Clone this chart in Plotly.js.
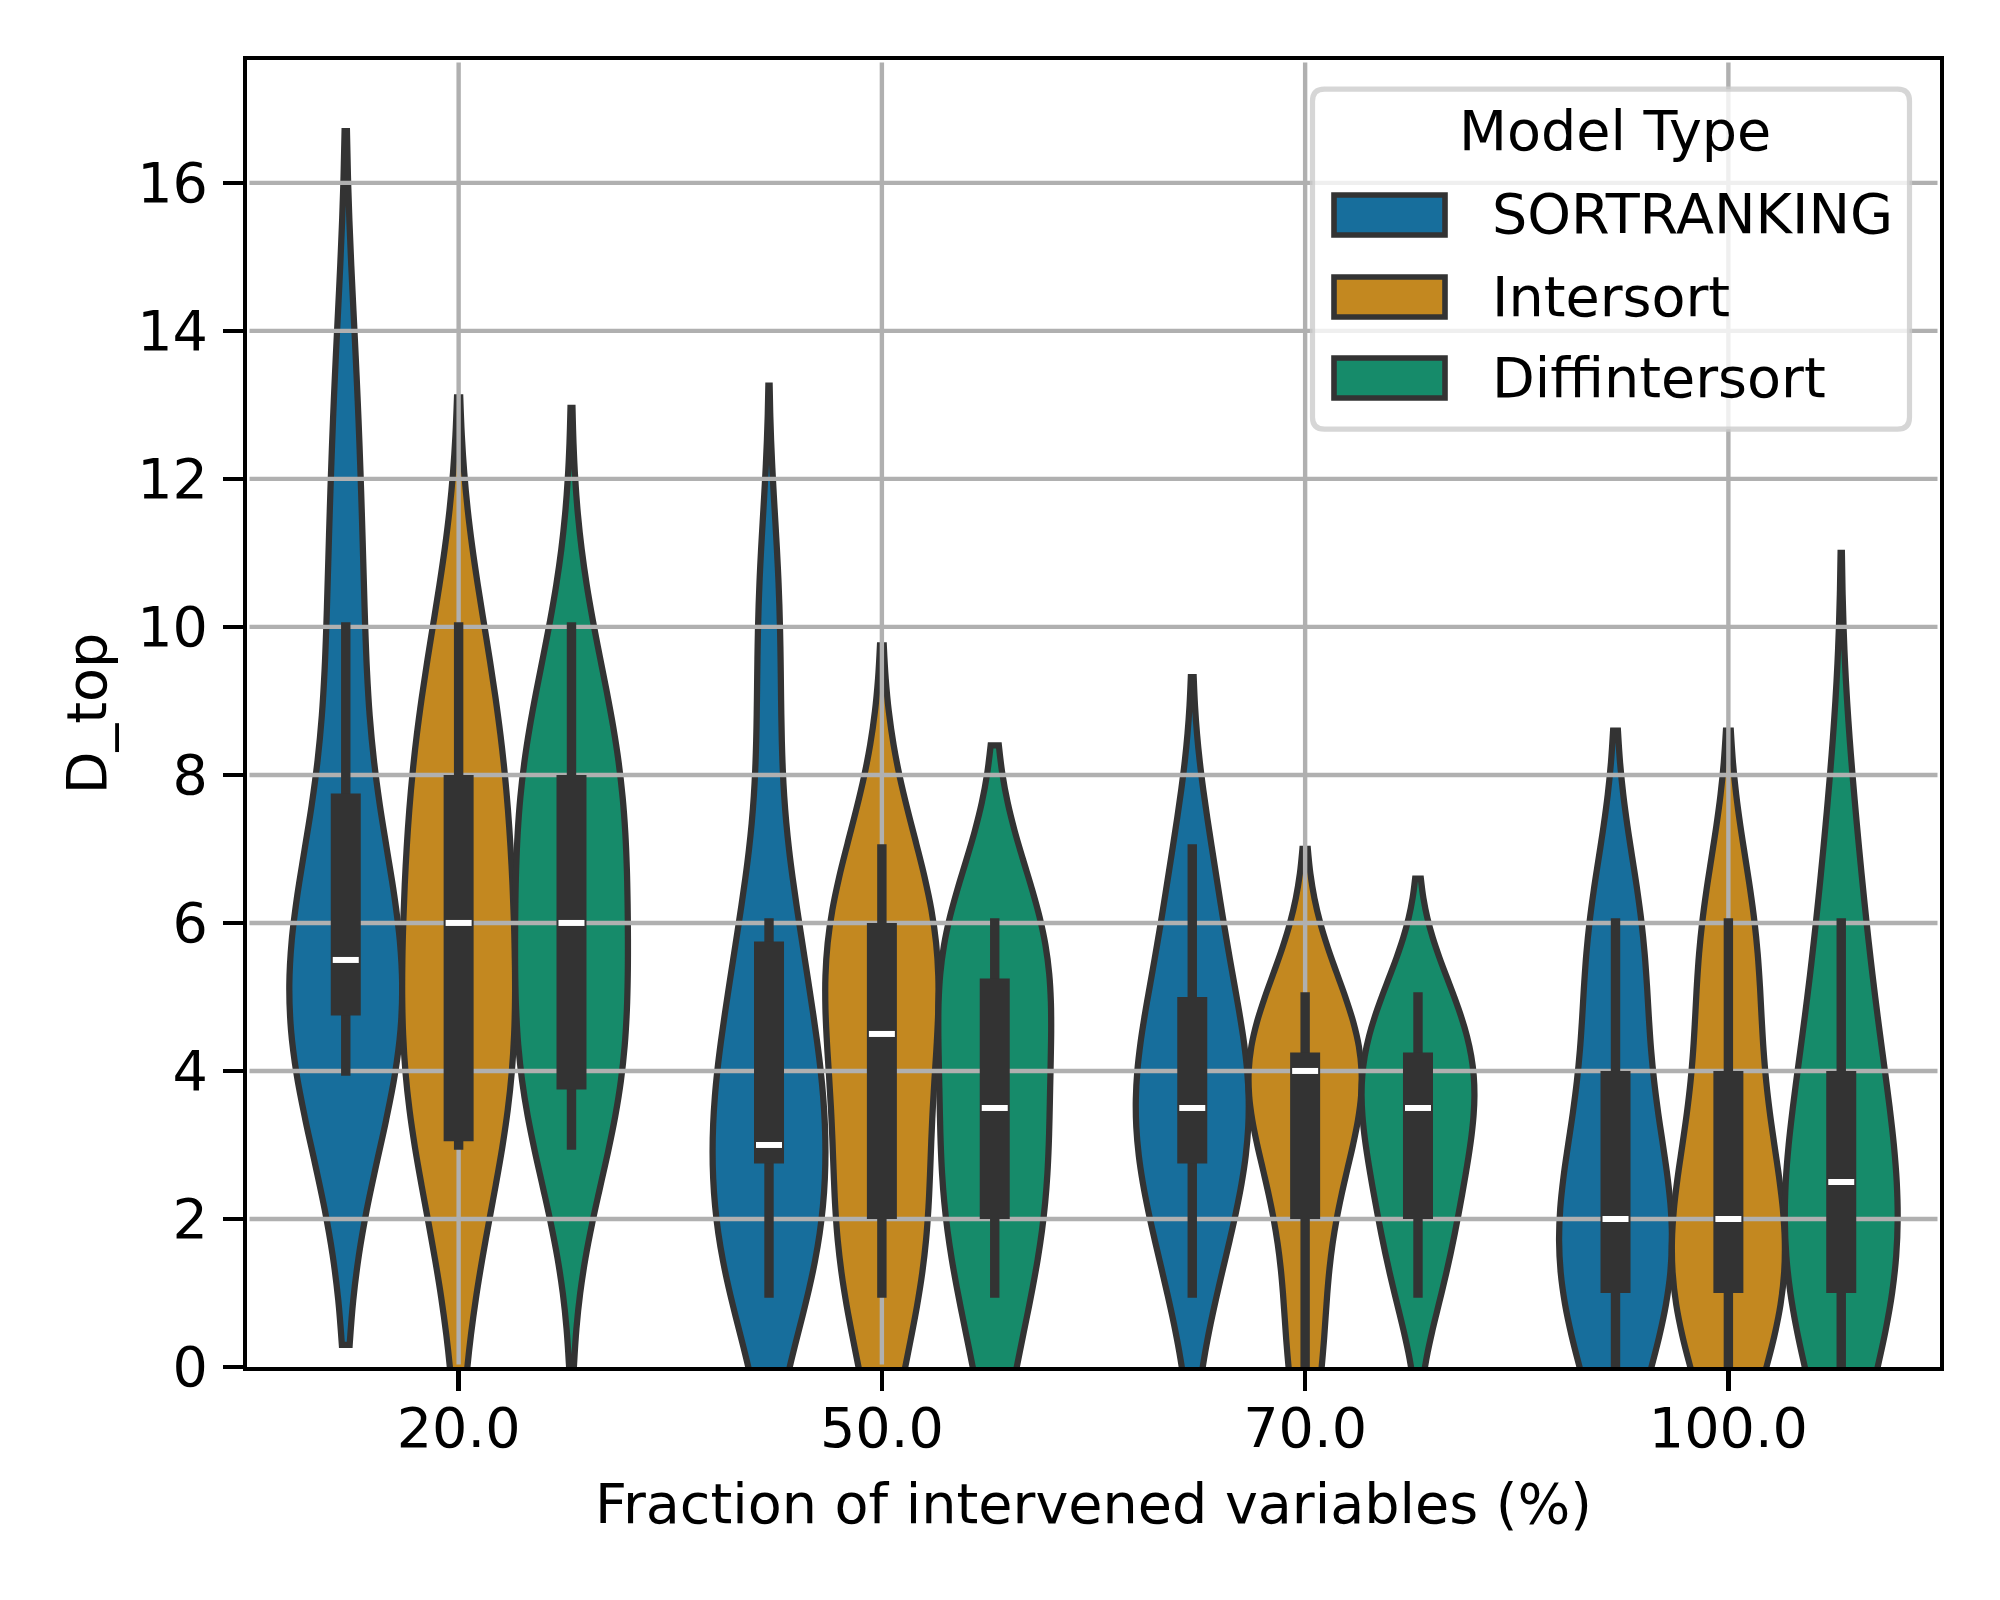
<!DOCTYPE html>
<html>
<head>
<meta charset="utf-8">
<script src="https://cdn.plot.ly/plotly-3.0.1.min.js"></script>
<style>html,body{margin:0;padding:0;background:#ffffff;}</style>
</head>
<body>
<div id="chart" style="width:2000px;height:1600px;"></div>
<script>
// ------------------------------------------------------------------
// DATA
// ------------------------------------------------------------------
const fractions = ['20.0', '50.0', '70.0', '100.0'];
const modelNames = ['SORTRANKING', 'Intersort', 'Diffintersort'];
const yTickValues = [0, 2, 4, 6, 8, 10, 12, 14, 16];

// D_top observations per fraction (input of the violin density estimate)
const sortrankingSamples = [
  [4,4,4,4,4,5,5,5,5,5,6,6,6,7,7,10,10,10,13,13],
  [0,1,1,1,1,2,2,2,2,2,3,3,3,3,3,4,4,4,4,4,5,5,5,6,6,6,7,8,9,10,11],
  [1,1,2,2,2,3,3,3,3,3,4,4,4,4,4,5,5,5,6,6,7,7],
  [0,0,0,1,1,1,1,1,2,2,2,2,2,2,3,3,3,4,4,5,5,6,6,6,6]
];
const intersortSamples = [
  [1,2,3,3,3,4,4,4,4,5,5,5,6,6,6,7,7,7,8,8,8,9,9,10,10],
  [0,1,1,1,2,2,2,2,3,3,4,4,4,5,5,5,5,6,6,6,6,6,7,7],
  [0,0,1,2,2,3,3,3,4,4,4,4,4,4,5,5,5],
  [0,0,0,1,1,1,1,1,1,2,2,2,2,2,3,3,3,4,4,5,5,6,6,6,6]
];
const diffintersortSamples = [
  [3,3,3,4,4,4,4,5,5,5,6,6,6,7,7,7,8,8,8,8,9,9,10],
  [0,0,1,1,1,2,2,2,2,2,3,3,3,3,3,4,4,4,4,5,5,5,5,5,6,6,6,6,6,6,6],
  [1,1,2,2,2,3,3,3,3,4,4,4,4,4,5,5,5],
  [0,0,0,1,1,1,1,1,2,2,2,2,2,3,3,3,3,4,4,4,5,5,6,6,7,8]
];

// inner box statistics per fraction
const sortrankingQ1 = [4.75, 2.75, 2.75, 1];
const sortrankingMedian = [5.5, 3, 3.5, 2];
const sortrankingQ3 = [7.75, 5.75, 5, 4];
const sortrankingWhiskerLow = [4, 1, 1, 0];
const sortrankingWhiskerHigh = [10, 6, 7, 6];

const intersortQ1 = [3.05, 2, 2, 1];
const intersortMedian = [6, 4.5, 4, 2];
const intersortQ3 = [8, 6, 4.25, 4];
const intersortWhiskerLow = [3, 1, 0, 0];
const intersortWhiskerHigh = [10, 7, 5, 6];

const diffintersortQ1 = [3.75, 2, 2, 1];
const diffintersortMedian = [6, 3.5, 3.5, 2.5];
const diffintersortQ3 = [8, 5.25, 4.25, 4];
const diffintersortWhiskerLow = [3, 1, 1, 0];
const diffintersortWhiskerHigh = [10, 6, 5, 6];

// ------------------------------------------------------------------
// STYLE
// ------------------------------------------------------------------
const modelColors = ['#176e9c', '#c38820', '#168b6a'];
const kdeBandwidth = [
  [1.85, 1.13, 1.16, 1.3],   // SORTRANKING
  [1.55, 1.375, 1.0, 1.3],   // Intersort
  [1.48, 1.2, 0.8, 1.5]      // Diffintersort
];
const FONT = 'DejaVu Sans, Verdana, sans-serif';
const FS = 55.6;
const DARK = '#333333';
const GRID = '#b0b0b0';
const W = 2000, H = 1600;
const M = {l: 247, r: 60, t: 60, b: 233};
const PW = W - M.l - M.r, PH = H - M.t - M.b;
const X_RANGE = [-0.5, fractions.length - 0.5];
const Y_RANGE = [0, 17.66];
const PX_PER_X = PW / (X_RANGE[1] - X_RANGE[0]);
const PX_PER_Y = PH / (Y_RANGE[1] - Y_RANGE[0]);
const VIOLIN_WIDTH = 0.8 / modelNames.length;
const BOX_HALF = 15 / PX_PER_X;
const MEDIAN_HALF = 13 / PX_PER_X;
const WHISKER_PX = 9.4;
const WHISKER_CAP = (WHISKER_PX / 2) / PX_PER_Y;

const samples = [sortrankingSamples, intersortSamples, diffintersortSamples];
const q1s = [sortrankingQ1, intersortQ1, diffintersortQ1];
const medians = [sortrankingMedian, intersortMedian, diffintersortMedian];
const q3s = [sortrankingQ3, intersortQ3, diffintersortQ3];
const lows = [sortrankingWhiskerLow, intersortWhiskerLow, diffintersortWhiskerLow];
const highs = [sortrankingWhiskerHigh, intersortWhiskerHigh, diffintersortWhiskerHigh];

const position = (c, m) => c + (m - 1) * VIOLIN_WIDTH;

// ------------------------------------------------------------------
// TRACES
// ------------------------------------------------------------------
const traces = [];
modelNames.forEach((name, m) => {
  fractions.forEach((f, c) => {
    traces.push({
      type: 'violin',
      name: name,
      x0: position(c, m),
      y: samples[m][c],
      width: VIOLIN_WIDTH,
      bandwidth: kdeBandwidth[m][c],
      spanmode: 'soft',
      points: false,
      box: {visible: false},
      meanline: {visible: false},
      fillcolor: modelColors[m],
      line: {color: DARK, width: 6.25},
      showlegend: false,
      hoverinfo: 'skip'
    });
  });
});

// ------------------------------------------------------------------
// SHAPES: grid (above violin fills), inner boxes, legend frame
// ------------------------------------------------------------------
const shapes = [];
yTickValues.filter(v => v > Y_RANGE[0]).forEach(v => {
  shapes.push({type: 'line', layer: 'above', xref: 'paper', yref: 'y',
    x0: 2.5 / PW, x1: 1 - 2.5 / PW, y0: v, y1: v,
    line: {color: GRID, width: 4.4}});
});
fractions.forEach((f, c) => {
  shapes.push({type: 'line', layer: 'above', xref: 'x', yref: 'paper',
    x0: c, x1: c, y0: 2.5 / PH, y1: 1 - 2.5 / PH,
    line: {color: GRID, width: 4.4}});
});

// legend (pixel geometry -> paper coordinates)
const px2x = px => (px - M.l) / PW;
const px2y = py => (H - M.b - py) / PH;
function roundRect(L, T, R, B, r) {
  const X = px2x, Y = px2y;
  return 'M' + X(L + r) + ',' + Y(T) +
    ' L' + X(R - r) + ',' + Y(T) + ' Q' + X(R) + ',' + Y(T) + ' ' + X(R) + ',' + Y(T + r) +
    ' L' + X(R) + ',' + Y(B - r) + ' Q' + X(R) + ',' + Y(B) + ' ' + X(R - r) + ',' + Y(B) +
    ' L' + X(L + r) + ',' + Y(B) + ' Q' + X(L) + ',' + Y(B) + ' ' + X(L) + ',' + Y(B - r) +
    ' L' + X(L) + ',' + Y(T + r) + ' Q' + X(L) + ',' + Y(T) + ' ' + X(L + r) + ',' + Y(T) + ' Z';
}
shapes.push({type: 'path', layer: 'above', xref: 'paper', yref: 'paper',
  path: roundRect(1312.5, 89.2, 1909.5, 429.2, 12),
  fillcolor: 'rgba(255,255,255,0.8)',
  line: {color: 'rgba(204,204,204,0.8)', width: 5.2}});

const legendRowsPx = [215, 297, 378];
const annotations = [{
  xref: 'paper', yref: 'paper', x: px2x(1615), y: px2y(131),
  xanchor: 'center', yanchor: 'middle', showarrow: false,
  text: 'Model Type', font: {family: FONT, size: FS, color: '#000'}
}];
modelNames.forEach((name, m) => {
  const cy = legendRowsPx[m];
  shapes.push({type: 'rect', layer: 'above', xref: 'paper', yref: 'paper',
    x0: px2x(1334), x1: px2x(1445), y0: px2y(cy + 20), y1: px2y(cy - 20),
    fillcolor: modelColors[m], line: {color: DARK, width: 5.6}});
  annotations.push({
    xref: 'paper', yref: 'paper', x: px2x(1490), y: px2y(cy - 1),
    xanchor: 'left', yanchor: 'middle', showarrow: false,
    text: name, font: {family: FONT, size: FS, color: '#000'}
  });
});

// inner boxes (whisker, box, median) drawn above the grid
modelNames.forEach((name, m) => {
  fractions.forEach((f, c) => {
    const p = position(c, m);
    shapes.push({type: 'line', layer: 'above', xref: 'x', yref: 'y',
      x0: p, x1: p, y0: lows[m][c] - WHISKER_CAP, y1: highs[m][c] + WHISKER_CAP,
      line: {color: DARK, width: WHISKER_PX}});
    shapes.push({type: 'rect', layer: 'above', xref: 'x', yref: 'y',
      x0: p - BOX_HALF, x1: p + BOX_HALF, y0: q1s[m][c], y1: q3s[m][c],
      fillcolor: DARK, line: {width: 0}});
    shapes.push({type: 'line', layer: 'above', xref: 'x', yref: 'y',
      x0: p - MEDIAN_HALF, x1: p + MEDIAN_HALF, y0: medians[m][c], y1: medians[m][c],
      line: {color: '#ffffff', width: 6}});
  });
});

// ------------------------------------------------------------------
// LAYOUT
// ------------------------------------------------------------------
const axisCommon = {
  showgrid: false, zeroline: false,
  showline: true, mirror: true, linecolor: '#000000', linewidth: 4.4,
  ticks: 'outside', ticklen: 19.5, tickwidth: 4.4, tickcolor: '#000000',
  tickfont: {family: FONT, size: FS, color: '#000'}
};
const layout = {
  width: W, height: H,
  margin: {l: M.l, r: M.r, t: M.t, b: M.b, pad: 0},
  paper_bgcolor: '#ffffff', plot_bgcolor: '#ffffff',
  font: {family: FONT, size: FS, color: '#000'},
  violinmode: 'overlay',
  showlegend: false,
  xaxis: Object.assign({}, axisCommon, {
    type: 'linear', range: X_RANGE,
    tickmode: 'array', tickvals: fractions.map((f, i) => i), ticktext: fractions,
    ticklabelstandoff: -11,
    title: {text: 'Fraction of intervened variables (%)', standoff: 27,
            font: {family: FONT, size: FS, color: '#000'}}
  }),
  yaxis: Object.assign({}, axisCommon, {
    type: 'linear', range: Y_RANGE,
    tickmode: 'array', tickvals: yTickValues, ticktext: yTickValues.map(String),
    ticklabelstandoff: 4,
    title: {text: 'D_top', standoff: 14,
            font: {family: FONT, size: FS, color: '#000'}}
  }),
  shapes: shapes,
  annotations: annotations
};

Plotly.newPlot('chart', traces, layout, {staticPlot: true, displayModeBar: false});
</script>
</body>
</html>
